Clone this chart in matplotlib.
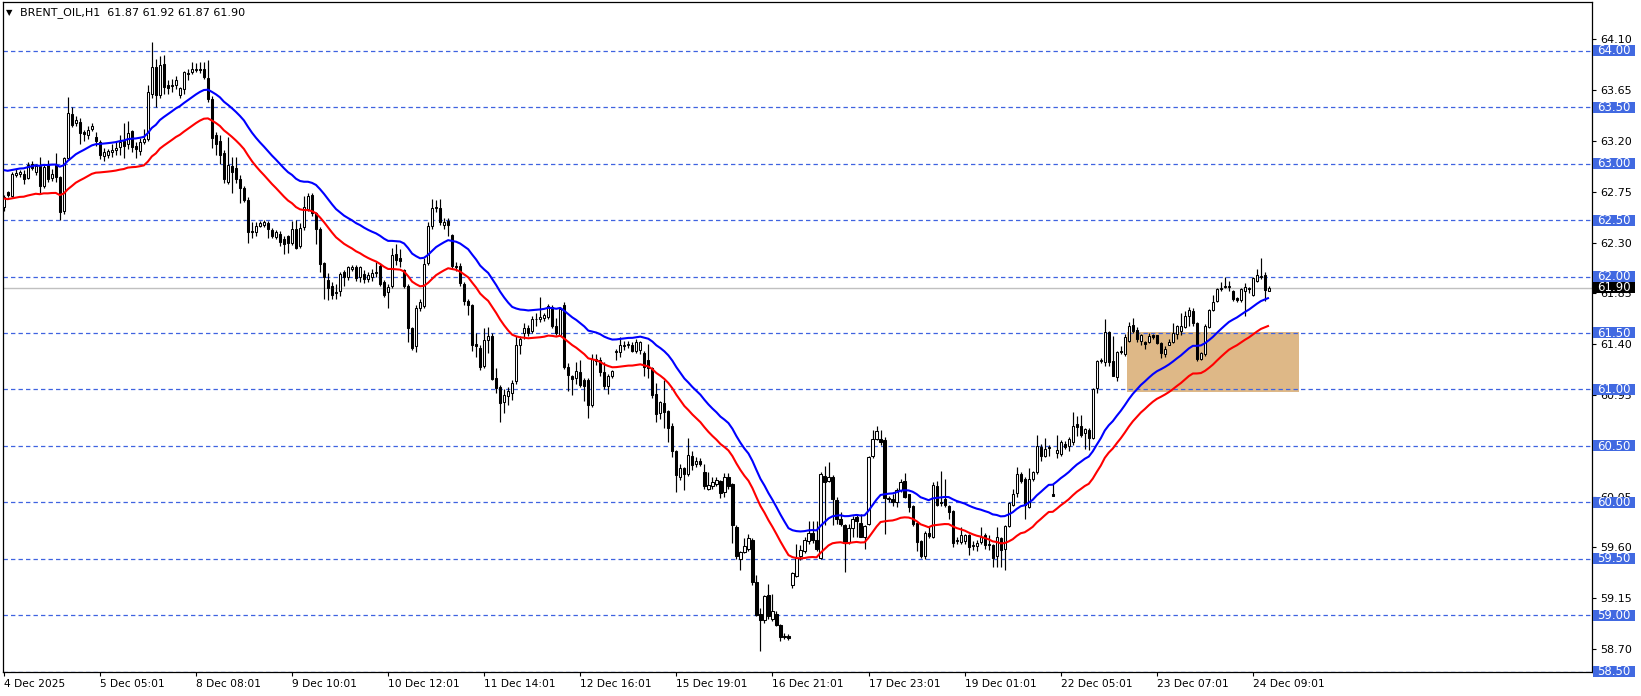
import matplotlib
matplotlib.use("Agg")
import matplotlib.pyplot as plt
import matplotlib.transforms as mtransforms
from matplotlib.patches import Rectangle
import numpy as np
import pandas as pd

# ---------------- data (H1 candles, BRENT_OIL) ----------------
opens = [
    62.62, 62.75, 62.71, 62.90, 62.91, 62.91, 62.87, 63.00, 62.93, 62.98, 62.80, 63.00,
    62.87, 62.99, 62.88, 62.58, 63.05, 63.44, 63.36, 63.37, 63.28, 63.25, 63.31, 63.24,
    63.19, 63.07, 63.08, 63.10, 63.12, 63.15, 63.20, 63.17, 63.29, 63.16, 63.11, 63.19,
    63.22, 63.62, 63.86, 63.61, 63.88, 63.70, 63.69, 63.70, 63.61, 63.66, 63.79, 63.81,
    63.83, 63.84, 63.84, 63.76, 63.57, 63.25, 63.20, 63.09, 62.84, 62.98, 62.96, 62.86,
    62.78, 62.68, 62.40, 62.39, 62.45, 62.46, 62.47, 62.41, 62.35, 62.38, 62.33, 62.36,
    62.30, 62.42, 62.27, 62.44, 62.60, 62.72, 62.56, 62.42, 62.12, 61.97, 61.92, 61.85,
    61.87, 62.04, 62.00, 62.07, 62.08, 62.00, 62.02, 61.98, 62.00, 62.03, 62.09, 61.95,
    61.86, 61.92, 62.20, 62.16, 62.06, 61.92, 61.54, 61.38, 61.72, 61.74, 62.12, 62.45,
    62.61, 62.61, 62.46, 62.49, 62.37, 62.09, 62.09, 61.93, 61.78, 61.75, 61.40, 61.37,
    61.21, 61.44, 61.47, 61.10, 61.02, 60.89, 60.94, 60.97, 61.07, 61.39, 61.50, 61.54,
    61.52, 61.62, 61.62, 61.63, 61.64, 61.73, 61.56, 61.48, 61.75, 61.20, 61.12, 61.10,
    61.15, 61.08, 61.08, 60.86, 61.27, 61.26, 61.15, 61.03, 61.12, 61.33, 61.33, 61.38,
    61.39, 61.39, 61.34, 61.35, 61.32, 61.26, 61.19, 60.96, 60.79, 60.88, 60.81, 60.68,
    60.45, 60.22, 60.30, 60.25, 60.41, 60.34, 60.37, 60.27, 60.12, 60.14, 60.16, 60.19,
    60.09, 60.22, 60.16, 59.78, 59.50, 59.56, 59.59, 59.67, 59.29, 59.01, 58.96, 59.18,
    58.97, 59.01, 58.91, 58.81, 58.82, 59.27, 59.35, 59.52, 59.57, 59.66, 59.73, 59.67,
    59.51, 60.23, 60.19, 60.22, 60.02, 59.85, 59.80, 59.65, 59.77, 59.87, 59.82, 59.69,
    59.81, 60.41, 60.56, 60.56, 60.55, 60.03, 60.03, 60.00, 60.11, 60.19, 60.07, 59.97,
    59.82, 59.66, 59.52, 59.73, 59.69, 60.14, 60.00, 60.03, 59.97, 59.92, 59.66, 59.65,
    59.66, 59.71, 59.61, 59.61, 59.65, 59.71, 59.62, 59.62, 59.52, 59.68, 59.59, 59.79,
    59.98, 60.08, 60.25, 60.21, 59.96, 60.21, 60.27, 60.49, 60.41, 60.49, 60.07, 60.44,
    60.43, 60.52, 60.50, 60.53, 60.69, 60.68, 60.61, 60.64, 60.57, 61.01, 61.25, 61.24,
    61.51, 61.25, 61.11, 61.34, 61.31, 61.43, 61.57, 61.53, 61.43, 61.42, 61.42, 61.48,
    61.48, 61.41, 61.31, 61.39, 61.42, 61.49, 61.52, 61.55, 61.65, 61.69, 61.59, 61.27,
    61.31, 61.55, 61.70, 61.78, 61.89, 61.91, 61.91, 61.87, 61.81, 61.79, 61.87, 61.90,
    61.84, 61.96, 62.00, 62.01, 61.87,
]
highs = [
    62.72, 62.76, 62.93, 62.95, 62.94, 62.94, 63.01, 63.02, 63.00, 63.06, 63.00, 63.03,
    62.95, 63.09, 62.89, 63.06, 63.59, 63.50, 63.42, 63.40, 63.30, 63.33, 63.36, 63.28,
    63.21, 63.14, 63.13, 63.17, 63.20, 63.25, 63.36, 63.38, 63.30, 63.19, 63.23, 63.31,
    63.70, 64.08, 63.93, 63.95, 63.96, 63.74, 63.75, 63.78, 63.68, 63.82, 63.84, 63.90,
    63.89, 63.90, 63.90, 63.92, 63.60, 63.28, 63.25, 63.12, 63.24, 63.06, 63.06, 62.90,
    62.80, 62.70, 62.48, 62.48, 62.49, 62.50, 62.49, 62.43, 62.41, 62.40, 62.36, 62.37,
    62.49, 62.50, 62.47, 62.71, 62.74, 62.74, 62.57, 62.44, 62.13, 62.03, 61.95, 61.93,
    62.04, 62.06, 62.09, 62.10, 62.10, 62.09, 62.06, 62.04, 62.07, 62.13, 62.12, 61.97,
    61.93, 62.25, 62.29, 62.24, 62.07, 61.93, 61.55, 61.75, 61.80, 62.16, 62.48, 62.69,
    62.68, 62.69, 62.52, 62.52, 62.38, 62.13, 62.12, 61.95, 61.80, 61.76, 61.50, 61.39,
    61.54, 61.55, 61.50, 61.19, 61.04, 61.00, 61.02, 61.08, 61.47, 61.47, 61.59, 61.57,
    61.65, 61.68, 61.82, 61.68, 61.76, 61.75, 61.63, 61.73, 61.77, 61.23, 61.13, 61.24,
    61.26, 61.10, 61.10, 61.31, 61.31, 61.29, 61.24, 61.14, 61.17, 61.36, 61.46, 61.43,
    61.43, 61.42, 61.45, 61.43, 61.34, 61.40, 61.20, 61.06, 60.90, 61.08, 60.82, 60.70,
    60.46, 60.34, 60.31, 60.57, 60.45, 60.40, 60.39, 60.34, 60.27, 60.22, 60.22, 60.20,
    60.26, 60.26, 60.17, 59.80, 59.57, 59.68, 59.72, 59.68, 59.36, 59.06, 59.18, 59.28,
    59.19, 59.04, 58.92, 58.84, 58.83, 59.38, 59.63, 59.62, 59.69, 59.83, 59.83, 59.83,
    60.27, 60.32, 60.36, 60.24, 60.05, 59.91, 59.81, 59.81, 59.88, 59.90, 59.90, 59.80,
    60.41, 60.64, 60.68, 60.64, 60.58, 60.06, 60.07, 60.13, 60.21, 60.26, 60.07, 59.98,
    59.83, 59.67, 59.75, 59.79, 60.18, 60.19, 60.28, 60.21, 59.98, 59.93, 59.69, 59.78,
    59.72, 59.72, 59.66, 59.67, 59.78, 59.73, 59.71, 59.63, 59.78, 59.69, 59.80, 60.00,
    60.12, 60.31, 60.27, 60.22, 60.30, 60.28, 60.60, 60.52, 60.57, 60.51, 60.16, 60.60,
    60.55, 60.54, 60.58, 60.80, 60.76, 60.77, 60.66, 60.66, 61.01, 61.26, 61.28, 61.62,
    61.52, 61.47, 61.34, 61.38, 61.49, 61.60, 61.63, 61.55, 61.49, 61.43, 61.50, 61.49,
    61.48, 61.42, 61.38, 61.45, 61.59, 61.57, 61.68, 61.69, 61.73, 61.72, 61.60, 61.33,
    61.58, 61.71, 61.84, 61.90, 61.95, 62.00, 61.96, 61.88, 61.82, 61.90, 61.94, 61.91,
    62.00, 62.07, 62.16, 62.04, 61.92,
]
lows = [
    62.58, 62.70, 62.70, 62.88, 62.88, 62.82, 62.86, 62.94, 62.90, 62.73, 62.78, 62.84,
    62.85, 62.84, 62.50, 62.55, 63.03, 63.32, 63.33, 63.17, 63.20, 63.22, 63.29, 63.16,
    63.04, 63.02, 63.05, 63.06, 63.08, 63.08, 63.05, 63.13, 63.10, 63.05, 63.08, 63.17,
    63.20, 63.58, 63.50, 63.58, 63.62, 63.62, 63.63, 63.66, 63.58, 63.62, 63.74, 63.79,
    63.81, 63.80, 63.75, 63.55, 63.14, 63.08, 63.00, 62.83, 62.82, 62.74, 62.83, 62.65,
    62.66, 62.30, 62.34, 62.36, 62.44, 62.44, 62.34, 62.34, 62.33, 62.27, 62.20, 62.21,
    62.28, 62.24, 62.25, 62.41, 62.58, 62.54, 62.29, 62.04, 61.80, 61.79, 61.80, 61.80,
    61.83, 61.92, 61.97, 62.05, 61.96, 61.95, 61.94, 61.95, 61.96, 62.00, 61.92, 61.82,
    61.72, 61.90, 62.10, 62.08, 61.90, 61.42, 61.35, 61.33, 61.69, 61.72, 62.10, 62.42,
    62.57, 62.46, 62.42, 62.36, 62.07, 62.05, 61.92, 61.75, 61.66, 61.34, 61.29, 61.17,
    61.19, 61.32, 61.08, 60.97, 60.71, 60.79, 60.86, 60.91, 61.05, 61.31, 61.45, 61.47,
    61.50, 61.56, 61.60, 61.61, 61.62, 61.54, 61.48, 61.47, 61.18, 60.99, 60.95, 61.05,
    61.02, 60.90, 60.75, 60.84, 61.22, 61.12, 61.00, 60.96, 61.10, 61.26, 61.29, 61.35,
    61.37, 61.33, 61.32, 61.31, 61.12, 61.10, 60.92, 60.71, 60.74, 60.66, 60.53, 60.40,
    60.09, 60.20, 60.11, 60.23, 60.29, 60.31, 60.32, 60.12, 60.11, 60.12, 60.14, 60.04,
    60.05, 60.12, 59.64, 59.50, 59.40, 59.55, 59.57, 59.27, 58.99, 58.68, 58.93, 58.97,
    58.95, 58.90, 58.77, 58.79, 58.78, 59.24, 59.34, 59.49, 59.55, 59.63, 59.64, 59.57,
    59.50, 59.80, 60.18, 59.80, 59.81, 59.79, 59.38, 59.63, 59.69, 59.69, 59.69, 59.59,
    59.80, 60.39, 60.55, 60.51, 59.72, 60.00, 59.97, 59.96, 60.09, 60.04, 59.91, 59.79,
    59.57, 59.51, 59.50, 59.68, 59.68, 59.97, 59.97, 59.96, 59.85, 59.60, 59.63, 59.63,
    59.63, 59.53, 59.58, 59.57, 59.63, 59.59, 59.58, 59.43, 59.43, 59.43, 59.40, 59.78,
    59.97, 60.05, 60.17, 59.85, 59.95, 60.19, 60.25, 60.37, 60.40, 60.41, 60.06, 60.39,
    60.41, 60.47, 60.45, 60.51, 60.59, 60.58, 60.47, 60.46, 60.56, 60.97, 61.23, 61.21,
    61.21, 61.12, 61.07, 61.31, 61.30, 61.42, 61.50, 61.42, 61.39, 61.36, 61.41, 61.45,
    61.40, 61.28, 61.29, 61.39, 61.41, 61.45, 61.48, 61.54, 61.56, 61.56, 61.25, 61.26,
    61.30, 61.54, 61.69, 61.77, 61.87, 61.90, 61.87, 61.78, 61.77, 61.77, 61.65, 61.85,
    61.83, 61.95, 61.98, 61.78, 61.87,
]
closes = [
    62.70, 62.72, 62.91, 62.92, 62.93, 62.86, 62.99, 62.96, 62.98, 62.80, 62.97, 62.86,
    62.91, 62.88, 62.57, 63.05, 63.45, 63.34, 63.39, 63.27, 63.26, 63.30, 63.33, 63.20,
    63.08, 63.10, 63.11, 63.12, 63.14, 63.19, 63.16, 63.27, 63.15, 63.13, 63.19, 63.22,
    63.63, 63.86, 63.61, 63.87, 63.68, 63.67, 63.70, 63.74, 63.67, 63.81, 63.80, 63.84,
    63.84, 63.83, 63.77, 63.57, 63.23, 63.17, 63.08, 62.86, 62.99, 62.93, 62.86, 62.78,
    62.68, 62.39, 62.39, 62.45, 62.47, 62.48, 62.42, 62.36, 62.39, 62.31, 62.29, 62.30,
    62.42, 62.25, 62.43, 62.62, 62.71, 62.56, 62.42, 62.11, 62.00, 61.90, 61.84, 61.86,
    62.02, 62.00, 62.08, 62.08, 61.99, 62.08, 61.98, 62.01, 62.03, 62.04, 61.93, 61.84,
    61.91, 62.19, 62.15, 62.14, 61.92, 61.54, 61.37, 61.72, 61.77, 62.11, 62.45, 62.61,
    62.62, 62.48, 62.48, 62.46, 62.09, 62.08, 61.94, 61.78, 61.75, 61.39, 61.38, 61.20,
    61.44, 61.47, 61.09, 61.01, 60.88, 60.95, 60.99, 61.06, 61.39, 61.45, 61.54, 61.50,
    61.62, 61.62, 61.64, 61.66, 61.74, 61.56, 61.50, 61.71, 61.20, 61.13, 61.09, 61.16,
    61.04, 61.03, 60.86, 61.27, 61.25, 61.15, 61.03, 61.12, 61.16, 61.34, 61.39, 61.39,
    61.40, 61.34, 61.42, 61.42, 61.20, 61.19, 60.95, 60.78, 60.89, 60.80, 60.66, 60.45,
    60.24, 60.30, 60.25, 60.42, 60.33, 60.37, 60.34, 60.14, 60.15, 60.18, 60.20, 60.08,
    60.22, 60.14, 59.80, 59.52, 59.56, 59.61, 59.68, 59.29, 59.00, 58.96, 59.17, 58.99,
    59.04, 58.91, 58.81, 58.82, 58.80, 59.37, 59.51, 59.58, 59.67, 59.73, 59.67, 59.59,
    60.25, 60.18, 60.22, 60.03, 59.85, 59.81, 59.64, 59.77, 59.85, 59.83, 59.69, 59.79,
    60.40, 60.56, 60.63, 60.53, 60.04, 60.03, 60.00, 60.11, 60.18, 60.05, 59.96, 59.81,
    59.65, 59.52, 59.73, 59.70, 60.15, 59.98, 59.99, 59.98, 59.91, 59.64, 59.66, 59.71,
    59.71, 59.60, 59.62, 59.64, 59.69, 59.62, 59.63, 59.51, 59.69, 59.58, 59.79, 59.99,
    60.07, 60.25, 60.19, 59.98, 60.21, 60.27, 60.50, 60.41, 60.47, 60.48, 60.06, 60.46,
    60.53, 60.49, 60.56, 60.68, 60.67, 60.60, 60.65, 60.57, 61.00, 61.25, 61.26, 61.51,
    61.24, 61.12, 61.33, 61.33, 61.46, 61.56, 61.52, 61.45, 61.48, 61.40, 61.47, 61.46,
    61.41, 61.32, 61.36, 61.42, 61.50, 61.56, 61.56, 61.65, 61.70, 61.59, 61.27, 61.32,
    61.56, 61.70, 61.77, 61.89, 61.90, 61.91, 61.92, 61.80, 61.79, 61.89, 61.91, 61.89,
    61.99, 62.01, 62.00, 61.88, 61.90,
]

date_labels = ["4 Dec 2025", "5 Dec 05:01", "8 Dec 08:01", "9 Dec 10:01", "10 Dec 12:01",
               "11 Dec 14:01", "12 Dec 16:01", "15 Dec 19:01", "16 Dec 21:01",
               "17 Dec 23:01", "19 Dec 01:01", "22 Dec 05:01", "23 Dec 07:01",
               "24 Dec 09:01"]
label_bars = [0, 24, 48, 72, 96, 120, 144, 168, 192, 216, 240, 264, 288, 312]
level_prices = [64.00, 63.50, 63.00, 62.50, 62.00, 61.50, 61.00, 60.50, 60.00, 59.50, 59.00, 58.50]
axis_ticks = [64.10, 63.65, 63.20, 62.75, 62.30, 61.85, 61.40, 60.95, 60.50, 60.05, 59.60, 59.15, 58.70]
last_price = 61.90
zone_low, zone_high = 60.98, 61.51
zone_left, zone_right = 280.5, 323.5
ma_period = 30
ma_start = 62.825      # envelope centre at the first visible bar
env_dev_pct = 0.2
title = "BRENT_OIL,H1  61.87 61.92 61.87 61.90"

# ---------------- figure ----------------
W, H = 1641, 696
fig = plt.figure(figsize=(W / 100, H / 100), dpi=100)
fig.patch.set_facecolor("white")
ax_l, ax_r, ax_t, ax_b = 2.5, 1592.0, 2.0, 672.0
ax = fig.add_axes([ax_l / W, 1 - ax_b / H, (ax_r - ax_l) / W, (ax_b - ax_t) / H])
ax.set_facecolor("white")

px_per_bar = 4.004
x0_px = 3.7
ax.set_xlim((ax_l - x0_px) / px_per_bar, (ax_r - x0_px) / px_per_bar)
price_per_px = 1 / 112.9
ax.set_ylim(64.0 - (ax_b - 50.7) * price_per_px, 64.0 - (ax_t - 50.7) * price_per_px)

o = np.array(opens); h = np.array(highs); l = np.array(lows); c = np.array(closes)
bars = np.arange(len(c))

# zone rectangle
ax.add_patch(Rectangle((zone_left, zone_low), zone_right - zone_left, zone_high - zone_low,
                       facecolor="#DEB887", edgecolor="none", zorder=0.5))

# horizontal dashed levels
for p in level_prices:
    ax.axhline(p, color="#3F63E0", lw=0.9, ls=(0, (3.5, 2.5)), zorder=1)
ax.axhline(last_price, color="#C0C0C0", lw=1.0, zorder=1)

# candles
ax.vlines(bars, l, h, color="black", lw=0.85, zorder=3)
up = c >= o
body_bottom = np.minimum(o, c)
body_h = np.maximum(np.abs(c - o), 0.004)
ax.bar(bars, body_h, bottom=body_bottom, width=0.55,
       color=np.where(up, "white", "black"), edgecolor="black",
       linewidth=0.75, zorder=4)

# envelopes (EMA of close, +/- deviation)
seeded = pd.Series(np.concatenate([[ma_start], c]))
center = seeded.ewm(span=ma_period, adjust=False).mean().to_numpy()[1:]
upper = center * (1 + env_dev_pct / 100)
lower = center * (1 - env_dev_pct / 100)
ax.plot(bars, upper, color="#0000FF", lw=1.5, zorder=5, solid_capstyle="butt")
ax.plot(bars, lower, color="#FF0000", lw=1.5, zorder=5, solid_capstyle="butt")

# spines
for s in ax.spines.values():
    s.set_color("black")
    s.set_linewidth(0.9)

# x axis
ax.set_xticks(label_bars)
ax.set_xticklabels(date_labels, ha="left", fontsize=7.7)
ax.tick_params(axis="x", direction="out", length=3, width=0.8, pad=2, colors="black")

# y axis on the right
ax.yaxis.tick_right()
ax.set_yticks(axis_ticks)
ax.set_yticklabels([f"{v:.2f}" for v in axis_ticks], fontsize=8)
ax.tick_params(axis="y", direction="out", length=3, width=0.8, pad=3, colors="black")

# label boxes on the price scale
blend = mtransforms.blended_transform_factory(ax.transAxes, ax.transData)
ax_w_px = ax_r - ax_l
box_x = (1593 - ax_l) / ax_w_px
box_w = 42 / ax_w_px
box_h = 11 * price_per_px
txt_x = (1597 - ax_l) / ax_w_px


def price_box(p, face):
    ax.add_patch(Rectangle((box_x, p - box_h / 2), box_w, box_h, transform=blend,
                           facecolor=face, edgecolor="none", clip_on=False, zorder=10))
    ax.text(txt_x, p - 0.2 * price_per_px, f"{p:.2f}", transform=blend, ha="left", va="center",
            color="white", fontsize=8.5, clip_on=False, zorder=11)


for p in level_prices:
    price_box(p, "#4169E1")
price_box(last_price, "black")

# title
ax.text(3 / ax_w_px, 1 - 11 / (ax_b - ax_t), "\u25BC", transform=ax.transAxes, fontsize=6,
        ha="left", va="center", color="black")
ax.text(17.5 / ax_w_px, 1 - 11 / (ax_b - ax_t), title, transform=ax.transAxes, fontsize=8,
        ha="left", va="center", color="black")

fig.savefig("out.png", dpi=100, facecolor="white")
